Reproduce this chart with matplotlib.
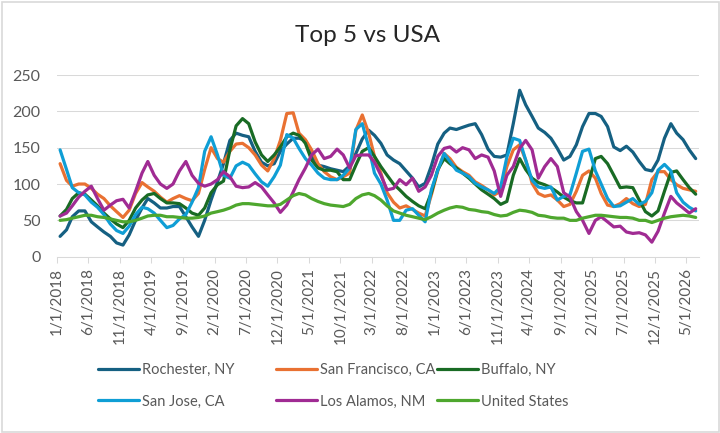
import pandas as pd
import numpy as np
import matplotlib
matplotlib.use("Agg")
import matplotlib.pyplot as plt
from matplotlib.lines import Line2D
from matplotlib.patches import Rectangle

# monthly series, Jan 2018 .. Jun 2026
months = pd.date_range("2018-01-01", periods=102, freq="MS")

rochester = [28, 37, 55, 63, 63, 48, 41, 34, 28, 19, 16, 30, 50, 67, 80, 74, 67,
             67, 69, 69, 55, 41, 28, 50, 78, 103, 128, 160, 170, 167, 165, 145, 130, 125,
             128, 145, 155, 163, 163, 160, 140, 126, 124, 121, 119, 117, 125, 142, 162, 174, 167,
             156, 140, 133, 128, 118, 108, 96, 101, 125, 155, 170, 177, 175, 178, 181, 183, 168,
             148, 138, 137, 140, 183, 229, 209, 193, 177, 171, 163, 149, 133, 138, 154, 179, 197,
             197, 193, 179, 151, 146, 152, 144, 131, 120, 118, 133, 163, 183, 170, 161, 147, 135]

san_francisco = [128, 105, 97, 100, 100, 94, 86, 80, 70, 62, 54, 64, 87, 102, 96, 90, 82,
                 75, 80, 84, 80, 77, 87, 120, 150, 135, 130, 145, 155, 156, 150, 140, 126, 118,
                 135, 160, 197, 198, 170, 161, 147, 128, 117, 110, 106, 110, 115, 174, 195, 170, 138,
                 115, 88, 75, 67, 70, 65, 60, 56, 85, 118, 142, 135, 123, 117, 112, 103, 98,
                 92, 85, 90, 124, 147, 154, 133, 101, 87, 83, 85, 78, 69, 72, 90, 112, 118,
                 108, 87, 71, 69, 73, 80, 73, 69, 72, 106, 117, 117, 106, 99, 94, 92, 90]

buffalo = [56, 65, 80, 88, 86, 78, 70, 60, 52, 45, 40, 50, 67, 78, 85, 87, 80,
           74, 74, 73, 67, 60, 57, 67, 88, 99, 104, 147, 180, 190, 183, 158, 140, 131,
           140, 151, 165, 170, 167, 156, 133, 122, 119, 119, 117, 106, 106, 126, 145, 150, 138,
           124, 112, 100, 92, 83, 76, 70, 66, 88, 120, 135, 128, 122, 115, 108, 100, 92,
           86, 80, 72, 76, 112, 135, 120, 108, 102, 99, 95, 89, 82, 77, 74, 74, 104,
           135, 138, 128, 112, 95, 96, 95, 78, 62, 56, 63, 90, 116, 118, 106, 95, 86]

san_jose = [147, 120, 95, 88, 85, 75, 68, 58, 45, 36, 32, 42, 58, 68, 66, 60, 50,
            40, 43, 52, 58, 75, 95, 145, 165, 140, 112, 108, 125, 130, 126, 114, 103, 97,
            110, 126, 168, 163, 149, 135, 126, 115, 108, 106, 106, 112, 122, 175, 183, 151, 115,
            100, 78, 50, 50, 64, 66, 57, 48, 92, 119, 142, 131, 119, 115, 110, 101, 96,
            92, 87, 96, 137, 163, 160, 133, 105, 96, 94, 96, 78, 83, 85, 115, 145, 148,
            118, 100, 80, 69, 70, 75, 80, 72, 76, 88, 119, 127, 118, 88, 75, 68, 63]

los_alamos = [56, 60, 70, 82, 90, 97, 80, 64, 71, 77, 79, 67, 90, 115, 131, 112, 100,
              94, 100, 118, 131, 112, 101, 97, 100, 106, 117, 110, 97, 95, 96, 102, 96, 85,
              74, 61, 71, 89, 106, 122, 140, 148, 135, 138, 148, 140, 122, 139, 140, 140, 130,
              112, 92, 94, 106, 99, 108, 90, 96, 112, 138, 149, 151, 144, 150, 147, 135, 140,
              137, 118, 83, 112, 124, 149, 160, 147, 108, 124, 135, 124, 88, 82, 62, 50, 32,
              50, 55, 48, 41, 42, 34, 32, 33, 30, 20, 35, 60, 83, 74, 67, 60, 66]

united_states = [50, 51, 53, 55, 57, 57, 55, 54, 52, 50, 48, 48, 50, 53, 56, 57, 57,
                 55, 55, 54, 53, 53, 54, 56, 60, 62, 64, 67, 71, 73, 73, 72, 71, 70,
                 70, 72, 78, 84, 87, 85, 80, 76, 73, 71, 70, 69, 72, 80, 85, 87, 84,
                 78, 70, 63, 60, 57, 55, 53, 51, 55, 60, 64, 67, 69, 68, 65, 64, 62,
                 61, 58, 56, 57, 61, 64, 63, 61, 57, 56, 54, 53, 53, 50, 50, 53, 55,
                 57, 57, 56, 55, 54, 54, 53, 50, 50, 47, 50, 53, 55, 56, 57, 56, 54]

names = ["Rochester, NY", "San Francisco, CA", "Buffalo, NY",
         "San Jose, CA", "Los Alamos, NM", "United States"]
values = [rochester, san_francisco, buffalo, san_jose, los_alamos, united_states]
colors = ["#156082", "#E97132", "#196B24", "#0F9ED5", "#A02B93", "#4EA72E"]

plt.rcParams["font.family"] = ["Lato", "DejaVu Sans"]
text_color = "#595959"
grid_color = "#d9d9d9"

W, H = 720, 433
fig = plt.figure(figsize=(W / 100, H / 100), dpi=100)
ax = fig.add_axes([57.2 / W, 1 - 256.7 / H, (699 - 57.2) / W, (256.7 - 75) / H])

# points sit half a month right of the tick for each month
x = months + pd.Timedelta(days=14)
lines = []
for name, vals, c in zip(names, values, colors):
    ln, = ax.plot(x, vals, color=c, lw=2.3, label=name,
                  solid_capstyle="round", solid_joinstyle="round")
    lines.append(ln)

ax.set_ylim(0, 250)
ax.set_yticks(range(0, 251, 50))
ax.set_xlim(months[0], pd.Timestamp("2026-07-01"))
tick_dates = months[::5]
ax.set_xticks(tick_dates)
ax.set_xticklabels([f"{d.month}/{d.day}/{d.year}" for d in tick_dates], rotation=90)

ax.grid(axis="y", color=grid_color, lw=0.75)
ax.set_axisbelow(True)
for s in ["top", "right", "left"]:
    ax.spines[s].set_visible(False)
ax.spines["bottom"].set_color(grid_color)
ax.spines["bottom"].set_linewidth(0.75)
ax.tick_params(axis="y", length=0, pad=12, labelsize=11.5, labelcolor=text_color)
ax.tick_params(axis="x", length=4, width=0.75, color=grid_color, pad=4,
               labelsize=11, labelcolor=text_color)

fig.text(0.511, 1 - 35 / H, "Top 5 vs USA", ha="center", va="center",
         fontsize=17.5, color="#262626")

# legend: three columns of two rows
col_x = [98, 276, 437]
for i, cx in enumerate(col_x):
    handles = [lines[i], lines[i + 3]]
    leg = fig.legend(handles=handles, loc="upper left",
                     bbox_to_anchor=(cx / W, 1 - 363 / H), frameon=False,
                     borderpad=0, borderaxespad=0, handlelength=2.8,
                     handletextpad=0.2, labelspacing=1.2, fontsize=10.5)
    for t in leg.get_texts():
        t.set_color(text_color)

fig.add_artist(Rectangle((1.5 / W, 1.5 / H), 1 - 3 / W, 1 - 3 / H,
                         transform=fig.transFigure, fill=False,
                         edgecolor=grid_color, lw=1.2))

fig.savefig("out.png", dpi=100)
